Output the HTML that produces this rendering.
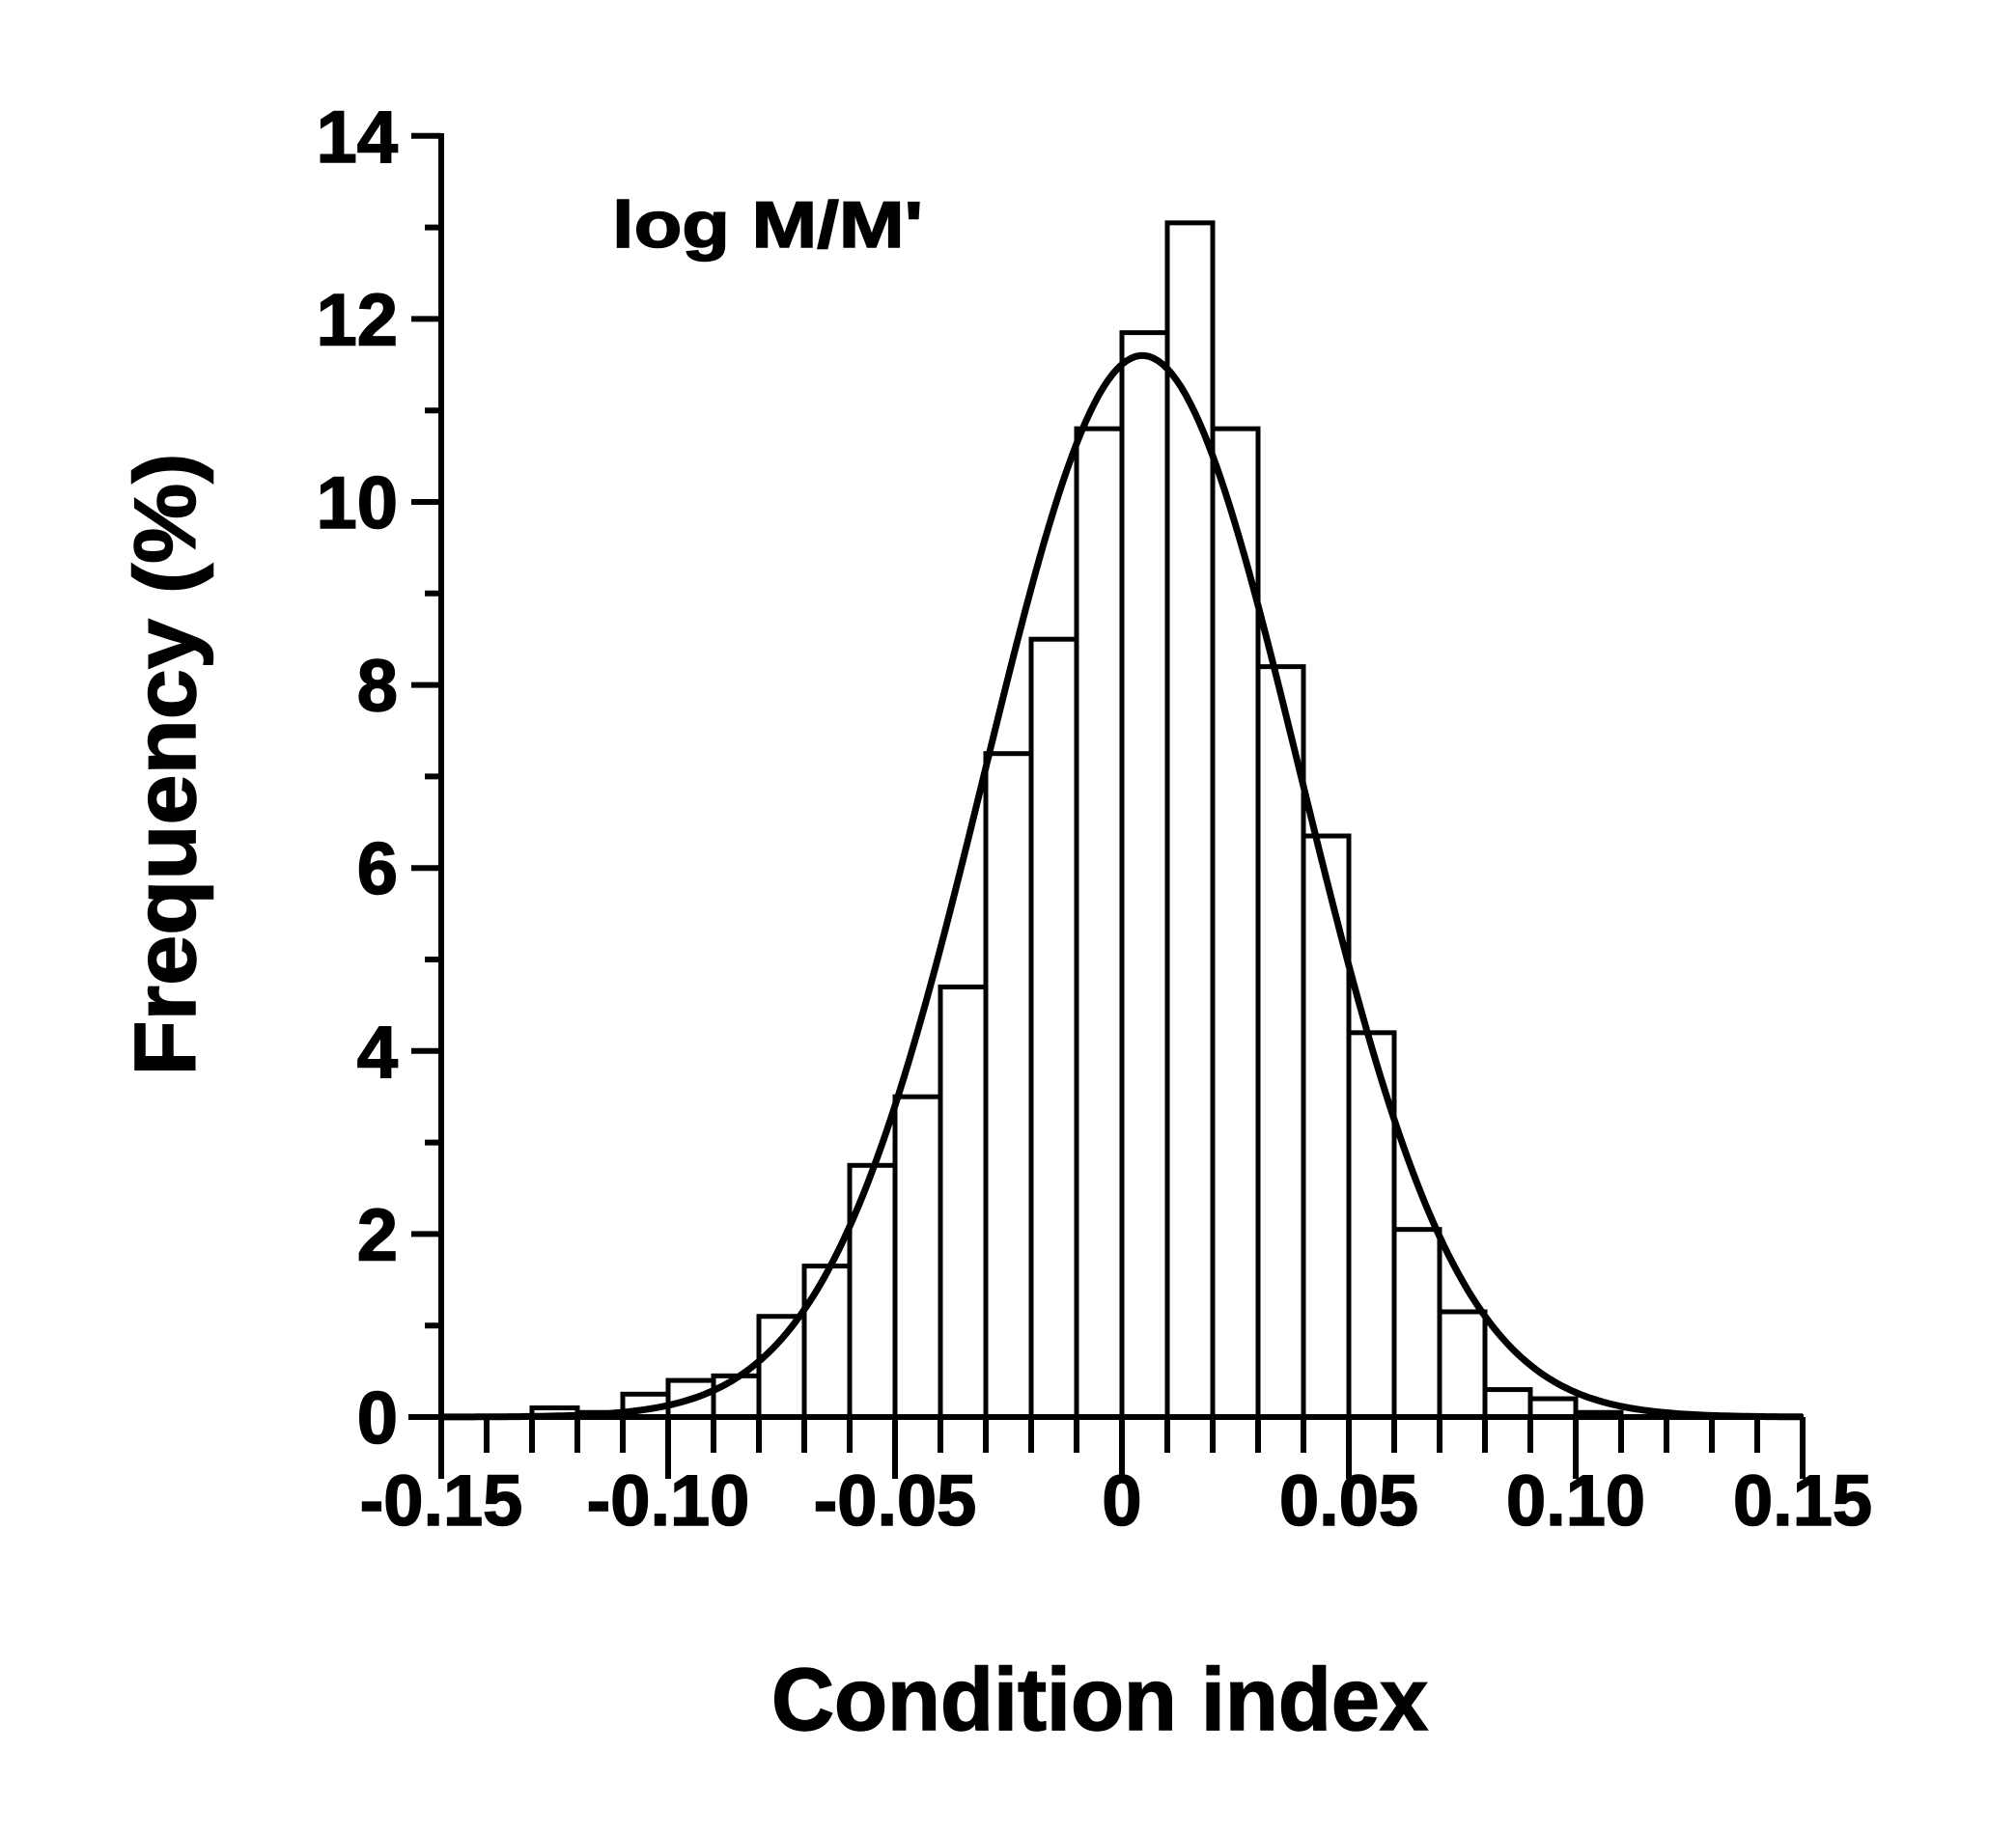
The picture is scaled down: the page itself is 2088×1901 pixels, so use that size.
<!DOCTYPE html>
<html><head><meta charset="utf-8"><style>html,body{margin:0;padding:0;background:#fff}</style></head>
<body>
<svg width="2088" height="1896" viewBox="0 0 2088 1896" xmlns="http://www.w3.org/2000/svg">
<rect width="2088" height="1896" fill="#fff"/>
<g id="bars" fill="#fff" stroke="#000" stroke-width="5"></g>
<path id="curve" fill="none" stroke="#000" stroke-width="7"/>
<g id="axes" stroke="#000" stroke-width="6"></g>
<g font-family="'Liberation Sans', Arial, sans-serif" font-weight="bold" fill="#000" stroke="#000" stroke-width="1.5">
<g id="ylab" font-size="76" text-anchor="end"></g>
<g id="xlab" font-size="74" text-anchor="middle"></g>
<text x="1139" y="1792" font-size="92" text-anchor="middle" textLength="680" lengthAdjust="spacingAndGlyphs">Condition index</text>
<text x="0" y="0" font-size="90" text-anchor="middle" transform="translate(202,792) rotate(-90)" textLength="645" lengthAdjust="spacingAndGlyphs">Frequency  (%)</text>
<text x="634" y="256" font-size="68" textLength="322" lengthAdjust="spacingAndGlyphs">log M/M'</text>
</g>
</svg>
<script>
const ns="http://www.w3.org/2000/svg";
const X=v=>457+(v+0.15)*4700, Y=f=>1468-f*94.8;
const data=[[-0.13,0.1],[-0.12,0.05],[-0.11,0.25],[-0.10,0.4],[-0.09,0.45],[-0.08,1.1],[-0.07,1.65],[-0.06,2.75],[-0.05,3.5],[-0.04,4.7],[-0.03,7.25],[-0.02,8.5],[-0.01,10.8],[0,11.85],[0.01,13.05],[0.02,10.8],[0.03,8.2],[0.04,6.35],[0.05,4.2],[0.06,2.05],[0.07,1.15],[0.08,0.3],[0.09,0.2],[0.10,0.05]];
const bars=document.getElementById('bars');
for(const [a,f] of data){const r=document.createElementNS(ns,'rect');r.setAttribute('x',X(a));r.setAttribute('y',Y(f));r.setAttribute('width',X(a+0.01)-X(a));r.setAttribute('height',Y(0)-Y(f));bars.appendChild(r);}
let d='';for(let v=-0.15;v<=0.1501;v+=0.001){const f=11.6*Math.exp(-Math.pow(v-0.0045,2)/(2*0.0348*0.0348));d+=(d?'L':'M')+X(v).toFixed(1)+','+Y(f).toFixed(1);}
document.getElementById('curve').setAttribute('d',d);
const ax=document.getElementById('axes');
function line(x1,y1,x2,y2){const l=document.createElementNS(ns,'line');l.setAttribute('x1',x1);l.setAttribute('y1',y1);l.setAttribute('x2',x2);l.setAttribute('y2',y2);ax.appendChild(l);}
line(457,138,457,1470);line(423,1468,1868,1468);
for(let i=0;i<=14;i++){line(i%2?440:426,Y(i),457,Y(i));}
for(let i=0;i<=30;i++){const v=-0.15+i*0.01;line(X(v),1468,X(v),i%5?1505:1532);}
const yl=document.getElementById('ylab');
for(let i=0;i<=14;i+=2){const t=document.createElementNS(ns,'text');t.setAttribute('x',412);t.setAttribute('y',Y(i)+27);t.textContent=i;yl.appendChild(t);}
const xl=document.getElementById('xlab');
const labs=['-0.15','-0.10','-0.05','0','0.05','0.10','0.15'];
labs.forEach((s,i)=>{const t=document.createElementNS(ns,'text');t.setAttribute('x',X(-0.15+i*0.05));t.setAttribute('y',1580);t.textContent=s;xl.appendChild(t);});
</script>
</body></html>
